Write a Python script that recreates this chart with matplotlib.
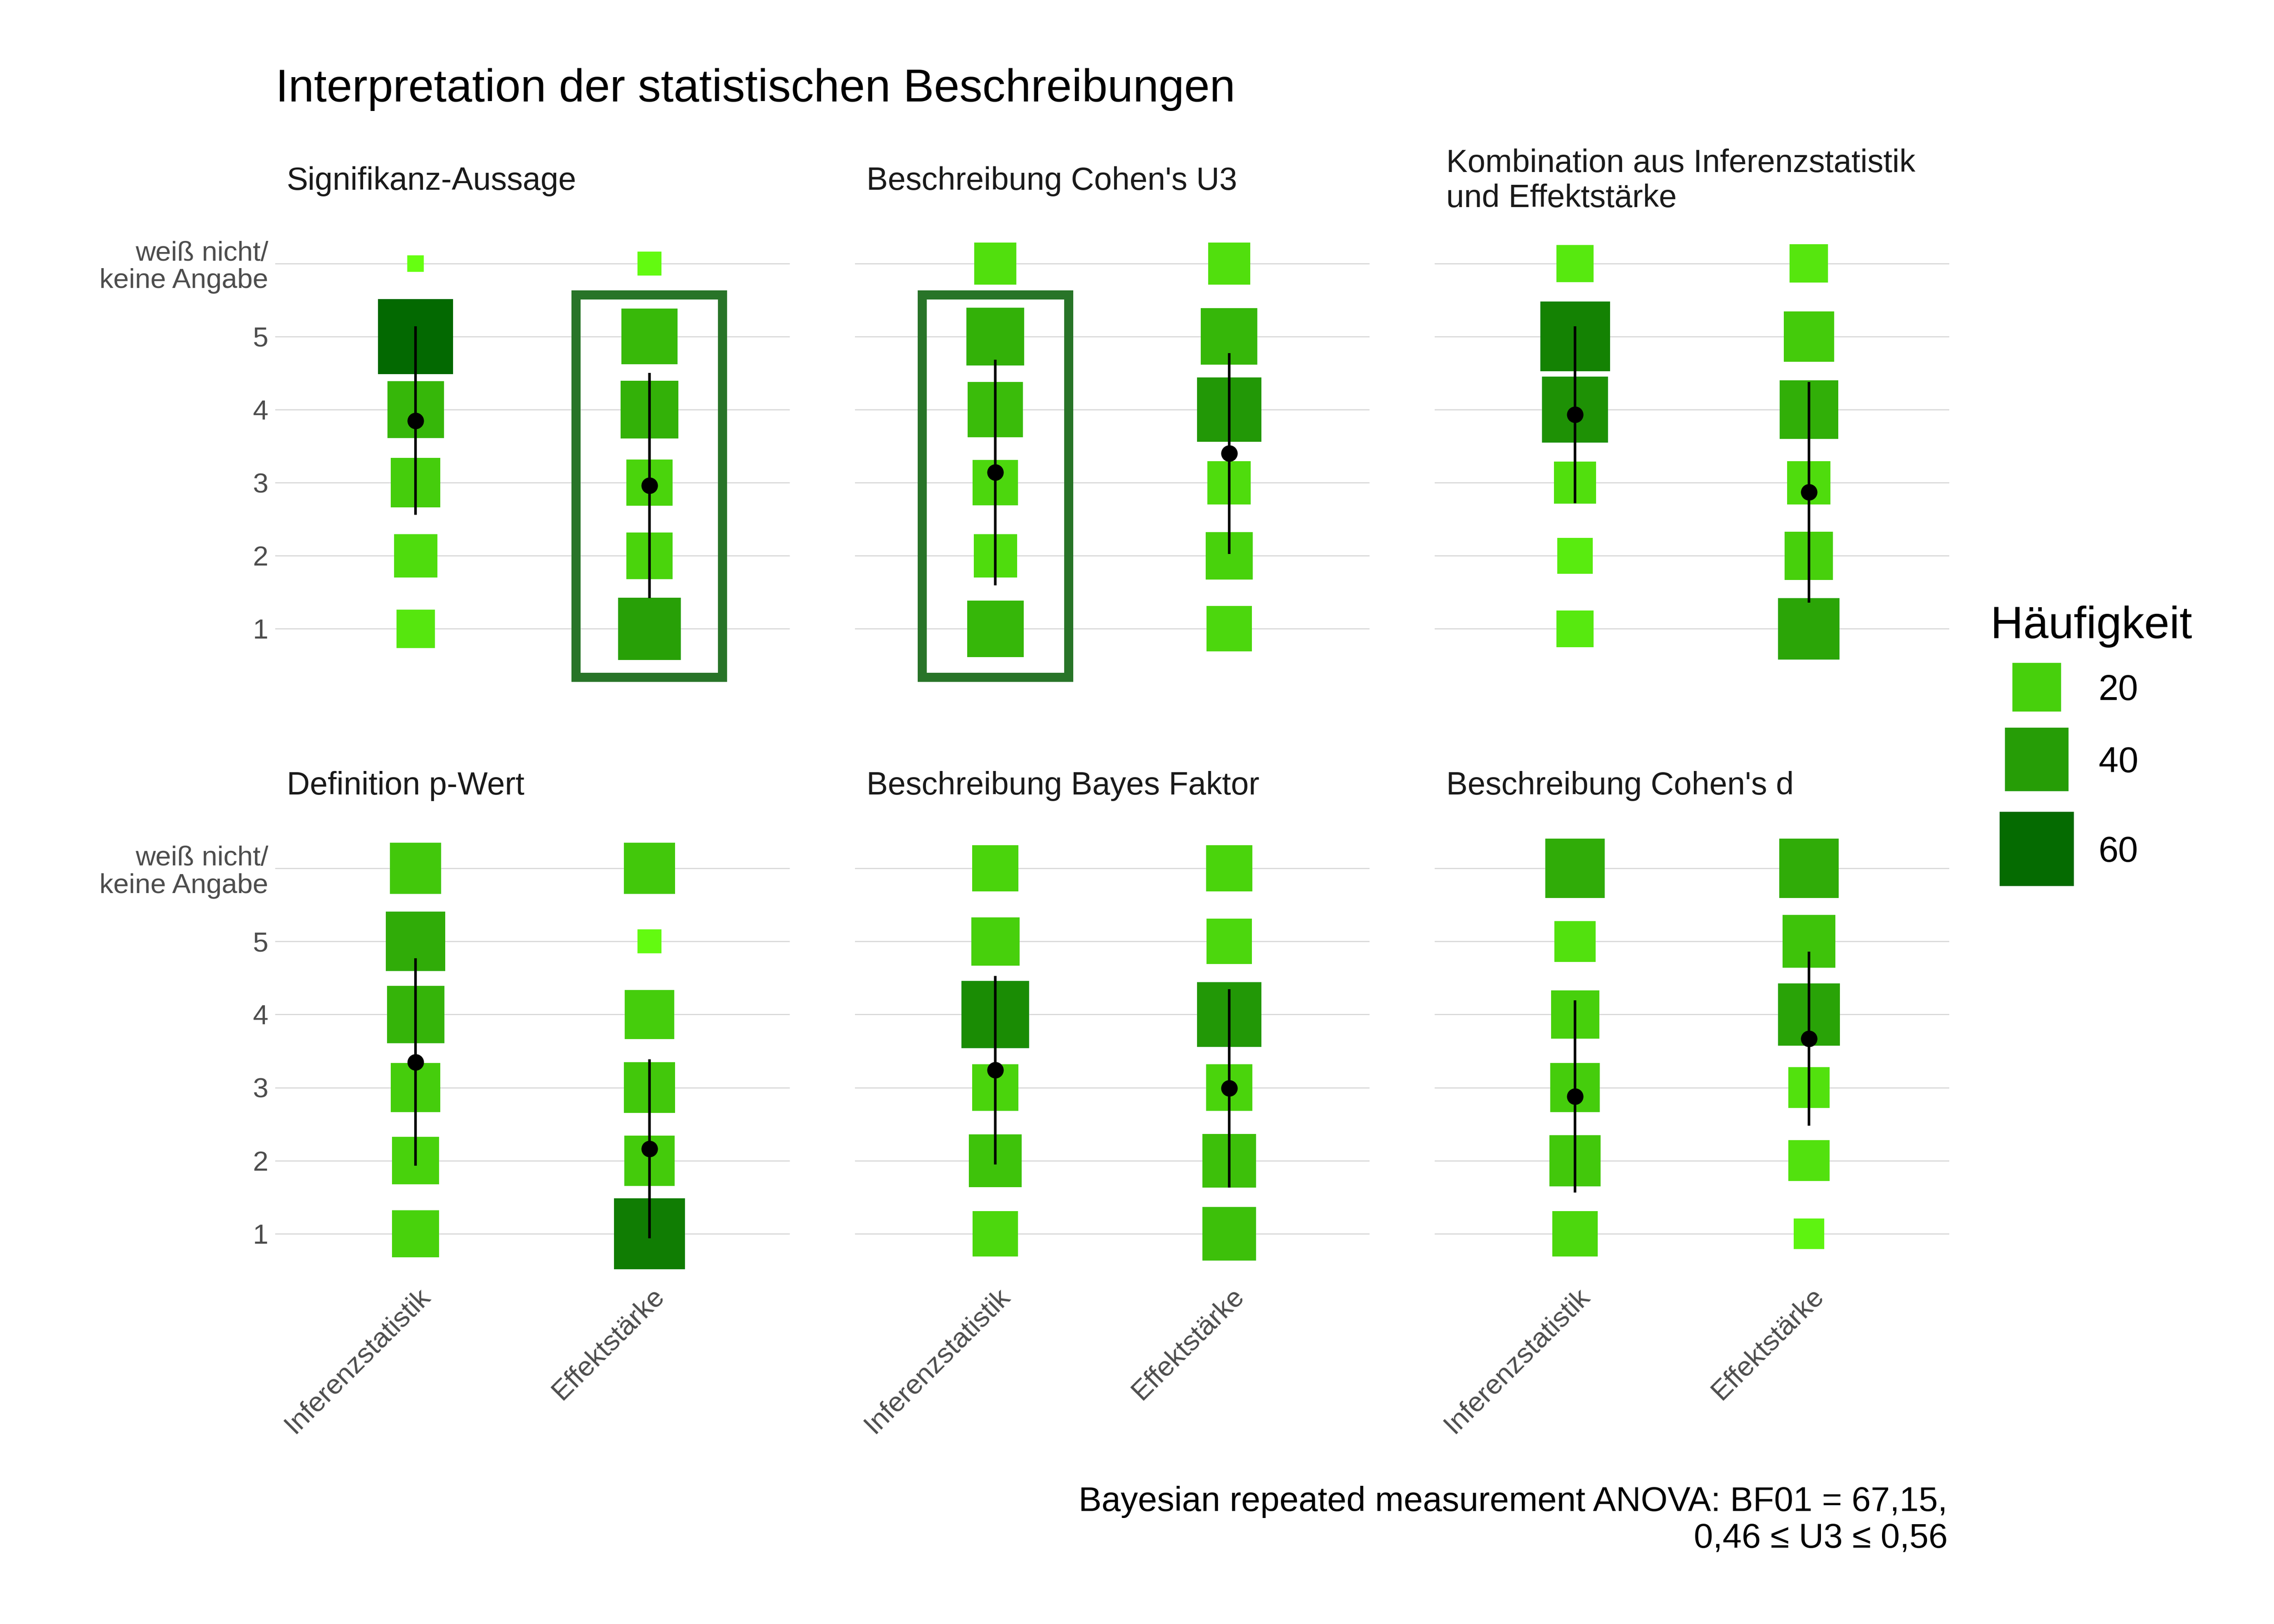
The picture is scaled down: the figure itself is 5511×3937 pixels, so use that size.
import numpy as np
import matplotlib
matplotlib.use('Agg')
import matplotlib.pyplot as plt
import matplotlib.transforms as mtransforms
from matplotlib.colors import LinearSegmentedColormap, Normalize
from matplotlib.patches import Rectangle

plt.rcParams['font.family'] = ['Liberation Sans', 'DejaVu Sans']

# ---------------------------------------------------------
# Data
# ---------------------------------------------------------
title = 'Interpretation der statistischen Beschreibungen'
panel_titles = ['Signifikanz-Aussage',
                "Beschreibung Cohen's U3",
                'Kombination aus Inferenzstatistik\nund Effektstärke',
                'Definition p-Wert',
                'Beschreibung Bayes Faktor',
                "Beschreibung Cohen's d"]
categories = ['Inferenzstatistik', 'Effektstärke']
answer_levels = [1, 2, 3, 4, 5, 6]
answer_labels = ['1', '2', '3', '4', '5', 'weiß nicht/\nkeine Angabe']

# counts per answer level 1..5, "weiß nicht" (one row per panel)
counts_inferenz = [[11, 15, 21, 30, 61, 1],
                   [30, 15, 17, 28, 32, 14],
                   [10, 9, 14, 45, 51, 10],
                   [19, 19, 21, 31, 34, 23],
                   [17, 25, 18, 47, 20, 18],
                   [17, 23, 21, 20, 13, 34]]
counts_effekt = [[39, 18, 18, 32, 29, 3],
                 [17, 19, 15, 42, 30, 14],
                 [37, 20, 15, 33, 22, 11],
                 [53, 22, 23, 21, 3, 23],
                 [26, 26, 18, 42, 17, 18],
                 [6, 13, 13, 38, 25, 34]]

mean_inferenz = [3.85, 3.14, 3.93, 3.35, 3.24, 2.88]
sd_inferenz = [1.29, 1.545, 1.21, 1.42, 1.29, 1.315]
mean_effekt = [2.96, 3.40, 2.87, 2.16, 2.99, 3.67]
sd_effekt = [1.54, 1.375, 1.51, 1.225, 1.356, 1.193]

highlight_panels = [0, 1]
highlight_categories = ['Effektstärke', 'Inferenzstatistik']
highlight_ymin, highlight_ymax = 0.335, 5.57

legend_values = [20, 40, 60]
caption_lines = ['Bayesian repeated measurement ANOVA: BF01 = 67,15,',
                 '0,46 ≤ U3 ≤ 0,56']

# ---------------------------------------------------------
# Scales
# ---------------------------------------------------------
W, H, DPI = 5511, 3937, 600
PX = 72.0 / DPI  # points per pixel

cmap = LinearSegmentedColormap.from_list('haeufigkeit', ['#66FF11', '#006400'])
norm = Normalize(vmin=1, vmax=63)


def marker_area(n):
    side_px = 9.4 + 30.6 * np.power(np.asarray(n, dtype=float), 0.42)
    return (side_px * PX) ** 2


fig = plt.figure(figsize=(W / DPI, H / DPI), dpi=DPI)


def px_axes(left, top, width, height):
    return fig.add_axes([left / W, 1 - (top + height) / H, width / W, height / H])


panel_lefts = [667, 2072, 3477]
panel_width = 1247
row_tops = [585.5, 2052]
row_height = 1063

grid_col = '#D4D4D4'
tick_col = '#4D4D4D'

for i, ptitle in enumerate(panel_titles):
    row, col = divmod(i, 3)
    ax = px_axes(panel_lefts[col], row_tops[row], panel_width, row_height)
    ax.set_xlim(0.4, 2.6)
    ax.set_ylim(0.3, 6.3)
    for s in ax.spines.values():
        s.set_visible(False)
    ax.set_yticks(answer_levels)
    ax.set_xticks([1, 2])
    ax.yaxis.grid(True, color=grid_col, lw=0.3)
    ax.set_axisbelow(True)
    ax.tick_params(length=0, labelsize=8.1, labelcolor=tick_col)

    for xi, counts in zip([1, 2], [counts_inferenz[i], counts_effekt[i]]):
        ax.scatter(np.full(len(answer_levels), xi), answer_levels, s=marker_area(counts),
                   c=counts, cmap=cmap, norm=norm, marker='s', linewidths=0,
                   zorder=2, clip_on=False)

    ax.errorbar([1, 2], [mean_inferenz[i], mean_effekt[i]],
                yerr=[sd_inferenz[i], sd_effekt[i]], fmt='o', color='black',
                ms=4.8, mew=0, elinewidth=0.76, capsize=0, zorder=4, clip_on=False)

    if i in highlight_panels:
        cx = categories.index(highlight_categories[highlight_panels.index(i)]) + 1
        ax.add_patch(Rectangle((cx - 0.313, highlight_ymin), 0.626,
                               highlight_ymax - highlight_ymin, fill=False,
                               ec='#287428', lw=2.64, zorder=3, clip_on=False))

    ax.annotate(ptitle, xy=(0, 1), xycoords='axes fraction',
                xytext=(28 * PX, 146.5 * PX), textcoords='offset points',
                ha='left', va='center', fontsize=9.3, color='#1A1A1A')

    if col == 0:
        ax.set_yticklabels(answer_labels)
        ax.tick_params(axis='y', pad=2.0)
        for lab in ax.get_yticklabels():
            lab.set_linespacing(1.1)
    else:
        ax.set_yticklabels([])

    if row == 1:
        ax.set_xticklabels(categories, rotation=45, ha='right', va='top',
                           rotation_mode='anchor')
        ax.tick_params(axis='x', pad=0.0)
        shift = mtransforms.ScaledTranslation(4 * PX / 72, 4 * PX / 72, fig.dpi_scale_trans)
        for lab in ax.get_xticklabels():
            lab.set_transform(lab.get_transform() + shift)
    else:
        ax.set_xticklabels([])

# ---------------------------------------------------------
# Figure-level texts and legend (pixel overlay)
# ---------------------------------------------------------
ov = fig.add_axes([0, 0, 1, 1])
ov.set_xlim(0, W)
ov.set_ylim(H, 0)
ov.axis('off')

ov.text(668, 246, title, ha='left', va='baseline', fontsize=13.35, color='black')

ov.text(4824, 1547, 'Häufigkeit', ha='left', va='baseline', fontsize=13.2, color='black')
key_y = [1666, 1841, 2058]
ov.scatter([4936] * len(legend_values), key_y, s=marker_area(legend_values),
           c=legend_values, cmap=cmap, norm=norm, marker='s', linewidths=0)
for v, y in zip(legend_values, key_y):
    ov.text(5086, y + 31, str(v), ha='left', va='baseline', fontsize=10.4, color='black')

for k, line in enumerate(caption_lines):
    ov.text(4720, 3663 + 89 * k, line, ha='right', va='baseline', fontsize=10.0, color='black')

fig.savefig('out.png', dpi=DPI)
